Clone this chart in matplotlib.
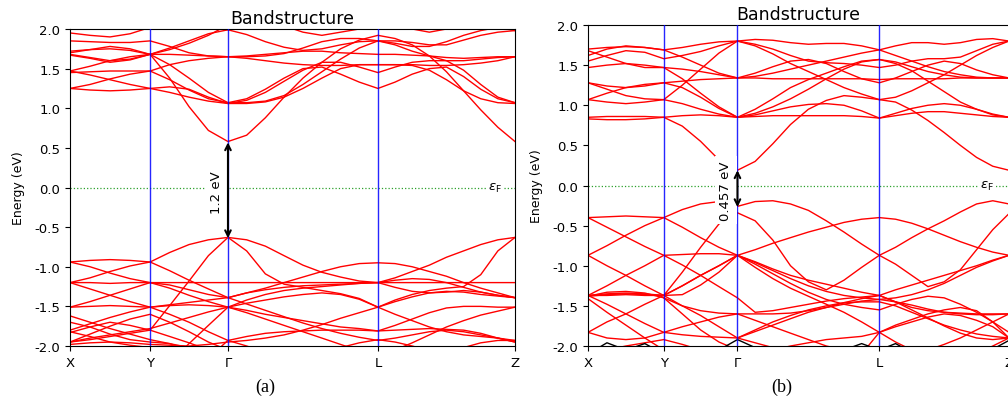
# Band structure comparison, panels (a) and (b)
import numpy as np
import matplotlib.pyplot as plt

nan = np.nan

# k-path positions (fraction of path) and labels
kpath_ticks = [0.0, 0.18, 0.355, 0.692, 1.0]
kpath_labels = ['X', 'Y', 'Γ', 'L', 'Z']

# sampling positions along the path (4 + 4 + 8 + 8 segments)
kgrid = [0.0, 0.045, 0.09, 0.135, 0.18,
         0.224, 0.2675, 0.311, 0.355,
         0.397, 0.439, 0.481, 0.5235, 0.566, 0.608, 0.650, 0.692,
         0.7305, 0.769, 0.8075, 0.846, 0.8845, 0.923, 0.9615, 1.0]

# ---- panel (a): bands (eV), nan = outside window ----
cond_a = [
    [1.72, 1.74, 1.75, 1.73, 1.68, 1.38, 1.02, 0.72, 0.58, 0.66, 0.88, 1.14, 1.38, 1.58, 1.75, 1.86, 1.92, 1.88, 1.80, 1.66, 1.46, 1.22, 0.98, 0.76, 0.58],
    [1.25, 1.23, 1.22, 1.23, 1.25, 1.20, 1.14, 1.09, 1.06, 1.06, 1.08, 1.14, 1.25, 1.38, 1.50, 1.55, 1.55, 1.55, 1.54, 1.48, 1.36, 1.22, 1.12, 1.07, 1.06],
    [1.25, 1.30, 1.37, 1.43, 1.47, 1.36, 1.23, 1.12, 1.07, 1.12, 1.24, 1.38, 1.50, 1.52, 1.43, 1.33, 1.25, 1.33, 1.43, 1.50, 1.52, 1.40, 1.24, 1.12, 1.07],
    [1.47, 1.42, 1.36, 1.30, 1.25, 1.27, 1.24, 1.14, 1.06, 1.10, 1.20, 1.34, 1.48, 1.58, 1.58, 1.52, 1.45, 1.52, 1.58, 1.60, 1.60, 1.60, 1.62, 1.64, 1.65],
    [1.45, 1.46, 1.47, 1.47, 1.47, 1.55, 1.60, 1.63, 1.65, 1.63, 1.60, 1.57, 1.55, 1.54, 1.54, 1.55, 1.55, 1.55, 1.55, 1.54, 1.54, 1.55, 1.57, 1.60, 1.65],
    [1.67, 1.63, 1.58, 1.61, 1.68, 1.68, 1.67, 1.66, 1.65, 1.66, 1.68, 1.70, 1.72, 1.72, 1.70, 1.69, 1.68, 1.68, 1.67, 1.66, 1.64, 1.63, 1.64, 1.65, 1.65],
    [1.70, 1.74, 1.78, 1.75, 1.68, 1.76, 1.85, 1.94, 1.99, 1.93, 1.84, 1.77, 1.73, 1.75, 1.80, 1.84, 1.85, 1.85, 1.83, 1.80, 1.80, 1.86, 1.92, 1.96, 1.98],
    [1.85, 1.84, 1.83, 1.83, 1.85, 1.78, 1.70, 1.66, 1.65, 1.65, 1.66, 1.69, 1.76, 1.84, 1.88, 1.88, 1.85, 1.82, 1.78, 1.78, 1.84, 1.92, 1.98, 2.02, 2.05],
    [1.95, 1.92, 1.90, 1.94, 2.02, 2.08, 2.06, 2.02, 1.99, 2.02, 2.06, 2.04, 1.96, 1.92, 1.96, 2.00, 2.00, 2.04, 2.00, 1.96, 2.00, 2.05, 2.05, 2.02, 1.98],
    [1.68, 1.64, 1.60, 1.62, 1.68, 1.55, 1.38, 1.20, 1.07, 1.07, 1.09, 1.16, 1.30, 1.46, 1.62, 1.76, 1.85, 1.80, 1.72, 1.66, 1.60, 1.48, 1.30, 1.14, 1.07],
    [1.47, 1.53, 1.60, 1.65, 1.68, 1.74, 1.82, 1.92, 2.05, 2.15, nan, nan, nan, nan, nan, nan, nan, nan, nan, nan, nan, nan, nan, nan, nan],
]
val_a = [
    [-0.94, -0.92, -0.91, -0.92, -0.94, -0.82, -0.72, -0.66, -0.63, -0.66, -0.74, -0.86, -0.98, -1.07, -1.13, -1.18, -1.20, -1.14, -1.06, -0.98, -0.88, -0.80, -0.72, -0.66, -0.63],
    [-0.94, -1.00, -1.08, -1.15, -1.20, -1.20, -1.20, -1.20, -1.20, -1.20, -1.20, -1.20, -1.20, -1.20, -1.20, -1.20, -1.20, -1.20, -1.20, -1.20, -1.20, -1.20, -1.20, -1.20, -1.20],
    [-1.20, -1.14, -1.06, -0.99, -0.94, -1.05, -1.17, -1.28, -1.39, -1.33, -1.27, -1.20, -1.13, -1.06, -1.00, -0.96, -0.95, -0.96, -1.00, -1.06, -1.12, -1.20, -1.27, -1.33, -1.39],
    [-1.20, -1.20, -1.21, -1.20, -1.20, -1.27, -1.36, -1.44, -1.51, -1.42, -1.35, -1.30, -1.27, -1.25, -1.23, -1.21, -1.20, -1.26, -1.31, -1.33, -1.32, -1.30, -1.32, -1.36, -1.39],
    [-1.95, -1.92, -1.88, -1.84, -1.80, -1.49, -1.18, -0.86, -0.63, -0.80, -1.09, -1.22, -1.26, -1.30, -1.34, -1.40, -1.51, -1.42, -1.35, -1.30, -1.27, -1.25, -1.10, -0.80, -0.63],
    [-1.20, -1.28, -1.36, -1.44, -1.51, -1.48, -1.45, -1.42, -1.39, -1.33, -1.29, -1.26, -1.24, -1.23, -1.22, -1.21, -1.20, -1.17, -1.15, -1.16, -1.20, -1.26, -1.32, -1.36, -1.39],
    [-1.51, -1.44, -1.36, -1.28, -1.20, -1.23, -1.29, -1.35, -1.39, -1.47, -1.55, -1.63, -1.71, -1.78, -1.84, -1.89, -1.93, -1.90, -1.86, -1.82, -1.80, -1.82, -1.86, -1.90, -1.95],
    [-1.51, -1.50, -1.49, -1.50, -1.51, -1.60, -1.70, -1.82, -1.93, -1.88, -1.84, -1.82, -1.81, -1.80, -1.80, -1.80, -1.81, -1.80, -1.79, -1.78, -1.79, -1.80, -1.84, -1.90, -1.95],
    [-1.95, -1.90, -1.86, -1.82, -1.78, -1.71, -1.64, -1.57, -1.51, -1.58, -1.66, -1.74, -1.82, -1.90, -1.98, -2.06, -2.12, -2.05, -1.96, -1.86, -1.76, -1.68, -1.61, -1.56, -1.51],
    [nan, nan, nan, nan, nan, -2.20, -1.97, -1.74, -1.51, -1.46, -1.42, -1.38, -1.35, -1.33, -1.35, -1.41, -1.51, -1.60, -1.68, -1.76, -1.82, -1.86, -1.88, -1.90, -1.93],
    [-1.98, -1.96, -1.95, -1.96, -1.98, -1.99, -2.00, -1.98, -1.95, -1.93, -1.90, -1.86, -1.80, -1.73, -1.65, -1.58, -1.51, -1.44, -1.38, -1.33, -1.31, -1.32, -1.35, -1.37, -1.39],
    [-1.80, -1.72, -1.64, -1.57, -1.51, -1.49, -1.48, -1.49, -1.51, -1.55, -1.60, -1.64, -1.68, -1.72, -1.76, -1.78, -1.81, -1.74, -1.66, -1.58, -1.52, -1.50, -1.50, -1.51, -1.51],
    [-1.62, -1.70, -1.78, -1.85, -1.92, -1.97, -2.02, -2.08, -2.12, nan, nan, nan, nan, nan, nan, nan, nan, nan, nan, nan, nan, nan, nan, nan, nan],
    [-1.95, -1.85, -1.75, -1.66, -1.60, -1.70, -1.82, -1.95, -2.05, nan, nan, nan, nan, nan, nan, nan, nan, nan, nan, nan, nan, nan, nan, nan, nan],
    [-1.82, -1.88, -1.95, -1.99, -2.02, -2.20, nan, nan, nan, nan, nan, nan, -2.20, -2.10, -2.02, -1.96, -1.92, -1.95, -2.00, -2.06, -2.12, nan, nan, nan, nan],
    [nan, nan, nan, nan, nan, nan, nan, -2.15, -1.93, -2.00, -2.08, -2.15, nan, nan, nan, nan, nan, nan, nan, -2.20, -2.10, -2.02, -1.96, -1.93, -1.93],
    [-1.83, -1.76, -1.70, -1.74, -1.80, -1.88, -1.96, -2.05, nan, nan, nan, nan, nan, nan, nan, nan, nan, nan, nan, nan, nan, nan, nan, nan, nan],
    [-1.70, -1.76, -1.85, -1.92, -1.95, -1.97, -2.05, nan, nan, nan, nan, nan, nan, nan, nan, nan, nan, nan, nan, nan, nan, nan, nan, nan, nan],
]

# ---- panel (b) ----
cond_b = [
    [0.83, 0.82, 0.82, 0.83, 0.85, 0.74, 0.55, 0.32, 0.19, 0.30, 0.52, 0.76, 0.95, 1.06, 1.12, 1.10, 1.07, 1.04, 0.94, 0.81, 0.66, 0.50, 0.35, 0.24, 0.19],
    [0.85, 0.86, 0.86, 0.86, 0.85, 0.87, 0.88, 0.87, 0.85, 0.88, 0.93, 0.98, 1.01, 1.02, 1.00, 0.93, 0.84, 0.87, 0.90, 0.92, 0.92, 0.90, 0.88, 0.86, 0.85],
    [1.07, 1.04, 1.02, 1.04, 1.07, 1.02, 0.95, 0.89, 0.85, 0.86, 0.87, 0.87, 0.87, 0.87, 0.87, 0.86, 0.84, 0.90, 0.96, 1.00, 1.02, 1.00, 0.95, 0.89, 0.85],
    [1.28, 1.24, 1.22, 1.24, 1.28, 1.30, 1.32, 1.33, 1.34, 1.34, 1.33, 1.33, 1.33, 1.33, 1.33, 1.33, 1.32, 1.33, 1.33, 1.33, 1.33, 1.34, 1.34, 1.34, 1.34],
    [1.47, 1.50, 1.52, 1.50, 1.47, 1.33, 1.15, 0.98, 0.85, 0.90, 0.98, 1.08, 1.20, 1.33, 1.45, 1.54, 1.57, 1.52, 1.43, 1.30, 1.17, 1.04, 0.95, 0.88, 0.85],
    [1.55, 1.62, 1.68, 1.66, 1.58, 1.62, 1.67, 1.74, 1.80, 1.82, 1.81, 1.78, 1.76, 1.77, 1.77, 1.74, 1.69, 1.74, 1.78, 1.78, 1.76, 1.78, 1.82, 1.83, 1.80],
    [1.62, 1.70, 1.74, 1.72, 1.69, 1.72, 1.76, 1.79, 1.80, 1.74, 1.64, 1.52, 1.42, 1.32, 1.22, 1.14, 1.07, 1.10, 1.18, 1.28, 1.38, 1.50, 1.62, 1.72, 1.80],
    [1.68, 1.60, 1.52, 1.47, 1.47, 1.45, 1.42, 1.38, 1.34, 1.36, 1.40, 1.45, 1.50, 1.55, 1.60, 1.65, 1.69, 1.62, 1.55, 1.48, 1.42, 1.38, 1.35, 1.34, 1.34],
    [1.28, 1.20, 1.12, 1.08, 1.07, 1.25, 1.45, 1.65, 1.80, 1.76, 1.70, 1.62, 1.55, 1.53, 1.52, 1.50, 1.47, 1.50, 1.55, 1.58, 1.58, 1.60, 1.68, 1.76, 1.80],
    [1.07, 1.15, 1.22, 1.26, 1.28, 1.22, 1.10, 0.96, 0.85, 0.95, 1.08, 1.22, 1.32, 1.40, 1.48, 1.55, 1.57, 1.54, 1.48, 1.42, 1.38, 1.35, 1.34, 1.34, 1.34],
    [1.70, 1.72, 1.73, 1.72, 1.69, 1.60, 1.50, 1.40, 1.34, 1.40, 1.48, 1.55, 1.57, 1.52, 1.42, 1.33, 1.28, 1.34, 1.42, 1.50, 1.55, 1.52, 1.44, 1.38, 1.34],
]
val_b = [
    [-0.40, -0.39, -0.38, -0.39, -0.40, -0.30, -0.23, -0.20, -0.26, -0.20, -0.19, -0.23, -0.31, -0.44, -0.58, -0.73, -0.87, -0.77, -0.65, -0.54, -0.44, -0.33, -0.23, -0.19, -0.23],
    [-1.37, -1.35, -1.34, -1.35, -1.37, -1.08, -0.77, -0.48, -0.34, -0.44, -0.68, -1.00, -1.20, -1.30, -1.18, -1.02, -0.87, -0.98, -1.12, -1.26, -1.20, -1.05, -0.80, -0.55, -0.35],
    [-0.87, -0.75, -0.62, -0.50, -0.40, -0.52, -0.65, -0.77, -0.87, -0.80, -0.72, -0.65, -0.58, -0.52, -0.46, -0.42, -0.40, -0.42, -0.47, -0.54, -0.62, -0.70, -0.77, -0.83, -0.87],
    [-0.40, -0.52, -0.64, -0.76, -0.87, -0.86, -0.85, -0.85, -0.87, -0.95, -1.04, -1.12, -1.18, -1.23, -1.28, -1.33, -1.37, -1.45, -1.52, -1.56, -1.58, -1.59, -1.60, -1.60, -1.60],
    [-1.38, -1.33, -1.32, -1.34, -1.40, -1.50, -1.56, -1.59, -1.60, -1.60, -1.60, -1.59, -1.56, -1.52, -1.48, -1.44, -1.42, -1.45, -1.49, -1.54, -1.58, -1.60, -1.61, -1.61, -1.60],
    [-0.87, -1.00, -1.12, -1.25, -1.37, -1.25, -1.12, -1.00, -0.87, -1.02, -1.16, -1.28, -1.38, -1.48, -1.58, -1.70, -1.83, -1.74, -1.67, -1.60, -1.55, -1.52, -1.56, -1.70, -1.90],
    [-1.37, -1.25, -1.12, -1.00, -0.87, -0.99, -1.12, -1.26, -1.40, -1.58, -1.56, -1.52, -1.48, -1.44, -1.41, -1.39, -1.37, -1.30, -1.24, -1.18, -1.12, -1.06, -1.00, -0.93, -0.87],
    [-1.37, -1.37, -1.36, -1.37, -1.37, -1.25, -1.12, -1.00, -0.87, -0.96, -1.06, -1.16, -1.25, -1.32, -1.37, -1.40, -1.42, -1.40, -1.36, -1.30, -1.22, -1.12, -1.02, -0.94, -0.87],
    [-1.83, -1.70, -1.60, -1.48, -1.37, -1.50, -1.62, -1.76, -1.90, -1.80, -1.70, -1.62, -1.55, -1.50, -1.46, -1.45, -1.45, -1.50, -1.58, -1.66, -1.74, -1.80, -1.85, -1.88, -1.90],
    [-1.37, -1.48, -1.60, -1.72, -1.83, -1.76, -1.70, -1.64, -1.60, -1.68, -1.76, -1.84, -1.92, -2.00, -2.05, -2.10, nan, nan, nan, -2.05, -1.98, -1.90, -1.80, -1.70, -1.60],
    [-1.83, -1.90, -1.92, -1.90, -1.83, -1.86, -1.88, -1.89, -1.90, -1.82, -1.74, -1.66, -1.58, -1.52, -1.46, -1.41, -1.37, -1.45, -1.55, -1.65, -1.75, -1.84, -1.90, -1.92, -1.90],
    [nan, -2.05, -2.00, -1.96, -1.92, -1.98, -2.05, nan, nan, nan, -2.05, -2.00, -1.96, -1.92, -1.90, -1.88, -1.83, -1.76, -1.70, -1.64, -1.60, -1.62, -1.68, -1.76, -1.90],
    [-1.38, -1.36, -1.35, -1.36, -1.37, -1.36, -1.24, -1.08, -0.87, -0.98, -1.10, -1.22, -1.33, -1.42, -1.48, -1.52, -1.55, -1.48, -1.42, -1.38, -1.40, -1.48, -1.58, -1.70, -1.83],
    [-1.41, -1.58, -1.74, -1.90, -2.05, nan, nan, nan, nan, nan, nan, nan, nan, nan, nan, nan, nan, nan, nan, nan, nan, nan, nan, nan, nan],
    [nan, nan, nan, nan, -1.40, -1.60, -1.80, -1.95, -2.05, nan, nan, nan, nan, nan, nan, nan, nan, nan, nan, nan, nan, nan, nan, nan, nan],
    [nan, nan, nan, nan, nan, nan, nan, nan, -1.90, -1.96, -2.02, -2.10, nan, nan, nan, -2.10, -1.83, -1.95, -2.05, nan, nan, nan, -2.10, -2.00, -1.90],
]
# second spin channel (black), only visible near -2 eV in (b)
spin_b = [-2.10, -1.96, -2.05, -1.97, -2.10, -2.10, -2.10, -2.05, -1.92, -2.02, -2.10, -2.10, -2.10, -2.10, -2.05, -1.97, -2.05, -1.97, -2.08, -2.10, -2.10, -2.10, -2.10, -2.04, -1.93]

# gaps at Gamma
gap_a = (-0.64, 0.57)
gap_b = (-0.27, 0.19)
gap_labels = ['1.2 eV', '0.457 eV']

fig = plt.figure(figsize=(10.08, 4.02), dpi=100)
ax_a = fig.add_axes([70 / 1008, 55 / 402, 445 / 1008, 317 / 402])
ax_b = fig.add_axes([588 / 1008, 55 / 402, 421 / 1008, 321 / 402])

panels = [(ax_a, cond_a, val_a, gap_a, gap_labels[0], 0.955),
          (ax_b, cond_b, val_b, gap_b, gap_labels[1], 0.948)]

for ax, cond, val, gap, glabel, fx in panels:
    for band in cond + val:
        ax.plot(kgrid, np.array(band, dtype=float), color='red', lw=1.0, zorder=2)
    for kk in kpath_ticks[1:-1]:
        ax.axvline(kk, color='blue', lw=1.0, alpha=0.85, zorder=3)
    ax.axhline(0, color='tab:green', ls=':', lw=0.9, zorder=1)
    ax.annotate('', xy=(kpath_ticks[2], gap[1]), xytext=(kpath_ticks[2], gap[0]),
                arrowprops=dict(arrowstyle='<->', color='black', lw=1.5,
                                shrinkA=0, shrinkB=0), zorder=5)
    ax.text(kpath_ticks[2] - 0.012, (gap[0] + gap[1]) / 2 - 0.02, glabel,
            rotation=90, ha='right', va='center', fontsize=9.5,
            bbox=dict(fc='white', ec='none', pad=3), zorder=4)
    ax.text(fx, 0, r'$\varepsilon_{\rm F}$', ha='center', va='center',
            fontsize=9.5, bbox=dict(fc='white', ec='none', pad=1.5), zorder=4)
    ax.set_xlim(0, 1)
    ax.set_ylim(-2, 2)
    ax.set_xticks(kpath_ticks)
    ax.set_xticklabels(kpath_labels)
    ax.set_yticks(np.arange(-2, 2.01, 0.5))
    ax.yaxis.set_major_formatter(plt.FormatStrFormatter('%.1f'))
    ax.tick_params(labelsize=9.5)
    ax.set_ylabel('Energy (eV)', fontsize=9, labelpad=7)
    ax.set_title('Bandstructure', fontsize=12.5, pad=4)

ax_b.plot(kgrid, spin_b, color='black', lw=1.0, zorder=2)

fig.text(265 / 1008, 1 - 387 / 402, '(a)', family='Liberation Serif', fontsize=13,
         ha='center', va='center')
fig.text(782 / 1008, 1 - 387 / 402, '(b)', family='Liberation Serif', fontsize=13,
         ha='center', va='center')

fig.savefig('out.png', dpi=100)
